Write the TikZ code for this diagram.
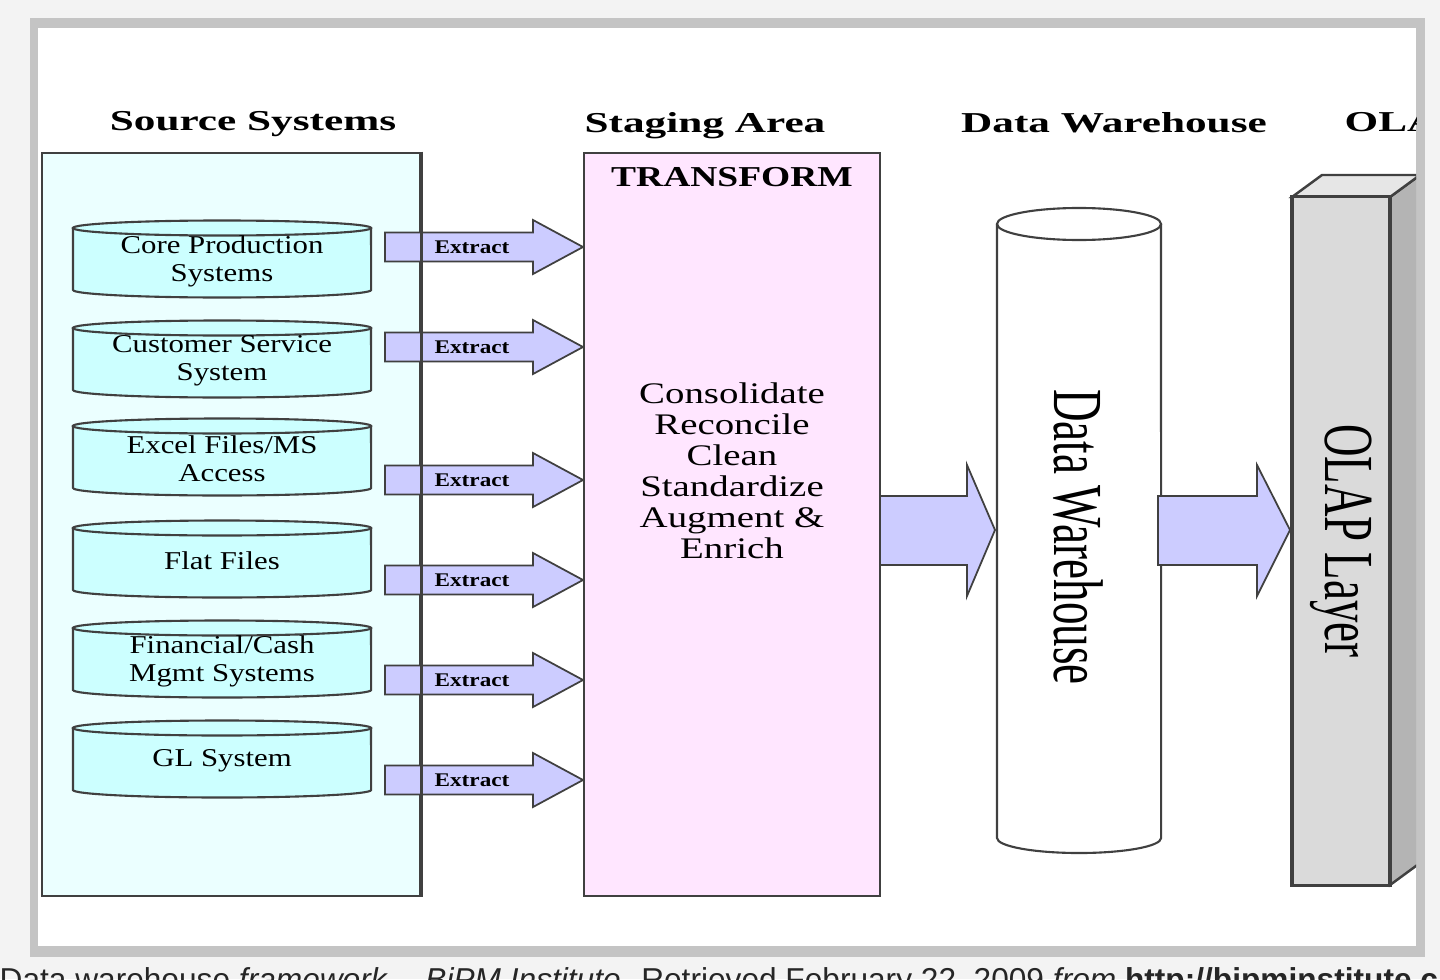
\documentclass[tikz,border=0pt]{standalone}
\usepackage{fontspec}
\setmainfont{Liberation Serif}
\newfontfamily\headfont[FakeStretch=1.5]{Liberation Serif}
\newfontfamily\tfmfont[FakeStretch=1.3]{Liberation Serif}
\newfontfamily\bodyfont[FakeStretch=1.3]{Liberation Serif}
\newfontfamily\cylfont[FakeStretch=1.2]{Liberation Serif}
\newfontfamily\extractfont[FakeStretch=1.2]{Liberation Serif}
\newfontfamily\tallfont[FakeStretch=0.64]{Liberation Serif}
\newfontfamily\capfont{Liberation Sans}
\definecolor{srcfill}{HTML}{EBFFFF}
\definecolor{cylfill}{HTML}{CCFFFF}
\definecolor{stagefill}{HTML}{FFE6FF}
\definecolor{arrowfill}{HTML}{CCCCFF}
\definecolor{olapfront}{HTML}{DADADA}
\definecolor{olapside}{HTML}{B4B4B4}
\definecolor{olaptop}{HTML}{E6E6E6}
\definecolor{pagegray}{HTML}{F3F3F3}
\definecolor{framegray}{HTML}{C4C4C4}
\definecolor{linegray}{HTML}{404040}
\begin{document}
\begin{tikzpicture}[x=0.01cm, y=-0.01cm,
    heading/.style={font=\headfont\bfseries\fontsize{8.2}{10}\selectfont, anchor=base, inner sep=0pt},
    box/.style={draw=linegray, line width=0.7pt},
    cylline/.style={draw=linegray, line width=0.6pt},
    blockarrow/.style={draw=linegray, fill=arrowfill, line width=0.5pt, line join=miter},
    extractlabel/.style={font=\extractfont\bfseries\fontsize{5.5}{6}\selectfont, inner sep=0pt},
    srclabel/.style={font=\cylfont\fontsize{7.3}{8}\selectfont, align=center, inner sep=0pt},
    tall/.style={font=\tallfont\fontsize{20}{24}\selectfont, rotate=-90, inner sep=0pt}]
    \useasboundingbox (0,0) rectangle (1440,979);
    \fill[pagegray] (0,0) rectangle (1440,979);
    \fill[framegray] (30,18) rectangle (1425,957);
    \fill[white] (38,28) rectangle (1416,946);

    \begin{scope}
        \clip (38,28) rectangle (1416,946);

        \node[heading] (hsrc) at (253,131) {Source Systems};
        \node[heading] (hstage) at (705,133) {Staging Area};
        \node[heading] (hdw) at (1114,133) {Data Warehouse};
        \node[heading, anchor=base west] (holap) at (1344,132) {OLAP};

        \node[box, fill=srcfill, minimum width=3.78cm, minimum height=7.43cm, inner sep=0pt] (src) at (231,524.5) {};
        \node[box, fill=stagefill, minimum width=2.96cm, minimum height=7.43cm, inner sep=0pt] (stage) at (732,524.5) {};
        \node[font=\tfmfont\bfseries\fontsize{8.2}{10}\selectfont, anchor=base, inner sep=0pt] (tfm) at (732,186) {TRANSFORM};
        \node[font=\bodyfont\fontsize{8.5}{8.8}\selectfont, align=center, inner sep=0pt] (steps) at (732,471)
            {Consolidate\\Reconcile\\Clean\\Standardize\\Augment \&\\Enrich};

        \foreach \n/\t/\lbl in {1/228/{Core Production\\Systems}, 2/328/{Customer Service\\System},
                3/426/{Excel Files/MS\\Access}, 4/528/{Flat Files}, 5/628/{Financial/Cash\\Mgmt Systems},
                6/728/{GL System}} {
            \fill[cylfill] (73,\t) rectangle (371,\t+62);
            \fill[cylfill] (222,\t+62) ellipse [x radius=1.49cm, y radius=0.075cm];
            \draw[cylline] (73,\t) -- (73,\t+62) arc [start angle=180, end angle=360, x radius=1.49cm, y radius=0.075cm] -- (371,\t);
            \filldraw[cylline, fill=cylfill] (222,\t) ellipse [x radius=1.49cm, y radius=0.075cm];
            \node[srclabel] (s\n) at (222,\t+33) {\lbl};
        }

        \foreach \n/\y in {1/247, 2/347, 3/480, 4/580, 5/680, 6/780} {
            \draw[blockarrow] (385,\y-14.5) -- (533,\y-14.5) -- (533,\y-27) -- (583,\y)
                -- (533,\y+27) -- (533,\y+14.5) -- (385,\y+14.5) -- cycle;
            \node[extractlabel] (x\n) at (472,\y) {Extract};
        }
        \draw[box] (src.north east) -- (src.south east);

        \fill[white] (997,224) rectangle (1161,838);
        \draw[cylline] (997,224) -- (997,838) arc [start angle=180, end angle=360, x radius=0.82cm, y radius=0.15cm] -- (1161,224);
        \draw[cylline] (1079,224) ellipse [x radius=0.82cm, y radius=0.16cm];
        \node[tall] (dw) at (1078,537) {Data Warehouse};

        \draw[blockarrow] (880,496) -- (967,496) -- (967,465) -- (995,530)
            -- (967,596) -- (967,565) -- (880,565) -- cycle;
        \draw[blockarrow] (1158,496) -- (1257,496) -- (1257,465) -- (1290,530)
            -- (1257,596) -- (1257,565) -- (1158,565) -- cycle;

        \filldraw[box, fill=olapside] (1390,197) -- (1420,175) -- (1420,863) -- (1390,885) -- cycle;
        \filldraw[box, fill=olaptop] (1292,197) -- (1322,175) -- (1420,175) -- (1390,197) -- cycle;
        \node[tall, box, line width=0.9pt, fill=olapfront, minimum width=6.88cm, minimum height=0.98cm] (olap) at (1341,541) {OLAP Layer};
    \end{scope}

    \begin{scope}
        \clip (0,0) rectangle (1440,979);
        \node[font=\capfont\fontsize{9}{11}\selectfont, text=black!85, anchor=base west, inner sep=0pt] (cap) at (-1,990)
            {Data warehouse \textit{framework.}\hspace{0.3cm}\textit{BiPM Institute.} Retrieved February 22, 2009 \textit{from} \textbf{http://bipminstitute.c}};
    \end{scope}
\end{tikzpicture}
\end{document}
